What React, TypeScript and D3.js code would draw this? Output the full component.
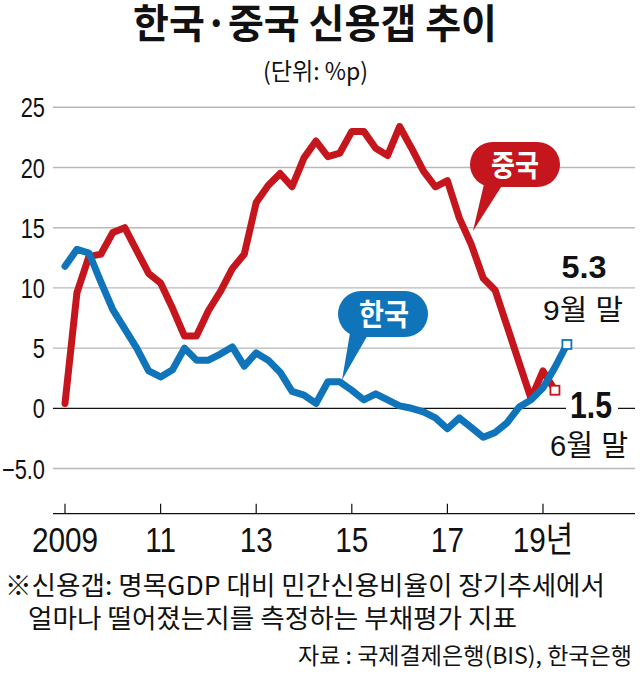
import React from "react";
import * as d3 from "d3";

// ---- data (quarterly, 2009 Q1 onward) ----
const chinaGap = [0.4, 9.6, 12.6, 12.8, 14.6, 15.0, 13.1, 11.2, 10.4, 8.3, 6.0, 6.0, 8.1, 9.7, 11.6, 12.8, 17.1, 18.5, 19.5, 18.4, 20.8, 22.2, 20.9, 21.2, 23.0, 23.0, 21.6, 21.0, 23.4, 21.6, 19.7, 18.4, 18.9, 15.8, 13.6, 10.8, 9.8, 6.8, 3.8, 0.8, 3.1, 1.5];
const koreaGap = [11.8, 13.2, 12.9, 10.5, 8.2, 6.6, 5.0, 3.1, 2.6, 3.2, 5.0, 4.0, 4.0, 4.5, 5.1, 3.5, 4.6, 4.0, 3.0, 1.4, 1.1, 0.4, 2.2, 2.2, 1.5, 0.7, 1.2, 0.7, 0.2, 0.0, -0.3, -0.8, -1.7, -0.8, -1.6, -2.4, -2.0, -1.2, 0.1, 0.7, 1.7, 3.4, 5.3];
const startYear = 2009;
const xTickYears = [2009, 2011, 2013, 2015, 2017, 2019];
const xTickLabels = ["2009", "11", "13", "15", "17", "19년"];
const yTicks = [-5, 0, 5, 10, 15, 20, 25];
const yTickLabels = ["−5.0", "0", "5", "10", "15", "20", "25"];
const title = "한국·중국 신용갭 추이";
const unitLabel = "(단위: %p)";
const seriesNames = ["중국", "한국"];
const koreaEnd = { value: "5.3", label: "9월 말" };
const chinaEnd = { value: "1.5", label: "6월 말" };
const notes = [
  "※신용갭: 명목GDP 대비 민간신용비율이 장기추세에서",
  "얼마나 떨어졌는지를 측정하는 부채평가 지표",
  "자료 : 국제결제은행(BIS), 한국은행",
];

const RED = "#c4161c";
const BLUE = "#0f74ba";
const NUM_FONT = "'Liberation Sans', 'Noto Sans CJK KR', sans-serif";
const KR_FONT = "'Noto Sans CJK KR', 'Noto Sans', sans-serif";

export default function App() {
  const W = 640;
  const H = 679;
  const x = d3.scaleLinear().domain([2009, 2019]).range([65, 543]);
  const y = d3.scaleLinear().domain([0, 25]).range([408.3, 107.3]);
  const gridX0 = 53;
  const gridX1 = 635;
  const axisY = y(-8.75);

  const qx = (i: number) => x(startYear + i / 4);
  const line = d3
    .line<number>()
    .x((_, i) => qx(i))
    .y((d) => y(d))
    .curve(d3.curveLinear);

  const cLast = chinaGap.length - 1;
  const kLast = koreaGap.length - 1;
  const ms = 9;

  return (
    <svg
      width={W}
      height={H}
      viewBox={`0 0 ${W} ${H}`}
      style={{ position: "absolute", left: 0, top: 0, background: "#fff" }}
    >
      <rect width={W} height={H} fill="#fff" />
      {/* title */}
      <text x={133} y={38} fontFamily={KR_FONT} fontWeight={700} fontSize={40} textLength={364} lengthAdjust="spacingAndGlyphs" fill="#111">
        {title}
      </text>
      <text x={263} y={80} fontFamily={KR_FONT} fontSize={24} textLength={105} lengthAdjust="spacingAndGlyphs" fill="#111">
        {unitLabel}
      </text>

      {/* grid */}
      {yTicks.map((t) => (
        <line
          key={"g" + t}
          x1={gridX0}
          x2={gridX1}
          y1={y(t)}
          y2={y(t)}
          stroke={t === 0 ? "#111" : "#b8b8b8"}
          strokeWidth={t === 0 ? 1.3 : 1.4}
        />
      ))}
      {yTicks.map((t, i) => (
        <text
          key={"yl" + t}
          transform={`translate(45,${y(t) + 10}) scale(0.78,1)`}
          textAnchor="end"
          fontFamily={NUM_FONT}
          fontSize={28}
          fill="#111"
        >
          {yTickLabels[i]}
        </text>
      ))}

      {/* x axis */}
      <line x1={gridX0} x2={gridX1} y1={axisY} y2={axisY} stroke="#111" strokeWidth={1.4} />
      {xTickYears.map((yr, i) => (
        <g key={"xt" + yr}>
          <line x1={x(yr)} x2={x(yr)} y1={axisY} y2={axisY - 10} stroke="#111" strokeWidth={1.2} />
          <text
            transform={`translate(${x(yr)},552) scale(0.85,1)`}
            textAnchor="middle"
            fontFamily={NUM_FONT}
            fontSize={35}
            fill="#111"
          >
            {xTickLabels[i]}
          </text>
        </g>
      ))}

      {/* series */}
      <path d={line(chinaGap) || ""} fill="none" stroke={RED} strokeWidth={7} strokeLinejoin="round" strokeLinecap="round" />
      <path d={line(koreaGap) || ""} fill="none" stroke={BLUE} strokeWidth={7} strokeLinejoin="round" strokeLinecap="round" />

      {/* end markers */}
      <rect x={qx(cLast) - ms / 2} y={y(chinaGap[cLast]) - ms / 2} width={ms} height={ms} fill="#fff" stroke={RED} strokeWidth={1.8} />
      <rect x={qx(kLast) - ms / 2} y={y(koreaGap[kLast]) - ms / 2} width={ms} height={ms} fill="#fff" stroke={BLUE} strokeWidth={1.8} />

      {/* end annotations */}
      <text x={584} y={278} textAnchor="middle" fontFamily={NUM_FONT} fontWeight={700} fontSize={31} textLength={45} lengthAdjust="spacingAndGlyphs" fill="#111">
        {koreaEnd.value}
      </text>
      <text x={583} y={320} textAnchor="middle" fontFamily={NUM_FONT} fontSize={28} textLength={80} lengthAdjust="spacingAndGlyphs" fill="#111">
        {koreaEnd.label}
      </text>
      <rect x={566} y={390} width={52} height={30} fill="#fff" />
      <text x={591} y={418} textAnchor="middle" fontFamily={NUM_FONT} fontWeight={700} fontSize={36} textLength={42} lengthAdjust="spacingAndGlyphs" fill="#111">
        {chinaEnd.value}
      </text>
      <text x={589} y={456} textAnchor="middle" fontFamily={NUM_FONT} fontSize={29} textLength={78} lengthAdjust="spacingAndGlyphs" fill="#111">
        {chinaEnd.label}
      </text>

      {/* legend bubbles */}
      <g>
        <polygon points="484,184 503,184 473,231" fill={RED} />
        <rect x={470} y={142} width={90} height={45} rx={22.5} fill={RED} />
        <text x={515} y={176} textAnchor="middle" fontFamily={KR_FONT} fontWeight={700} fontSize={30} textLength={48} lengthAdjust="spacingAndGlyphs" fill="#fff">
          {seriesNames[0]}
        </text>
      </g>
      <g>
        <polygon points="350,333 369,333 342,380" fill={BLUE} />
        <rect x={338} y={291} width={90} height={46} rx={23} fill={BLUE} />
        <text x={384} y={325} textAnchor="middle" fontFamily={KR_FONT} fontWeight={700} fontSize={30} textLength={50} lengthAdjust="spacingAndGlyphs" fill="#fff">
          {seriesNames[1]}
        </text>
      </g>

      {/* footnotes */}
      <text x={5} y={595} fontFamily={KR_FONT} fontSize={26} textLength={600} lengthAdjust="spacingAndGlyphs" fill="#111">
        {notes[0]}
      </text>
      <text x={28} y={628} fontFamily={KR_FONT} fontSize={26} textLength={489} lengthAdjust="spacingAndGlyphs" fill="#111">
        {notes[1]}
      </text>
      <text x={298} y={664} fontFamily={KR_FONT} fontSize={23} textLength={334} lengthAdjust="spacingAndGlyphs" fill="#111">
        {notes[2]}
      </text>
    </svg>
  );
}
